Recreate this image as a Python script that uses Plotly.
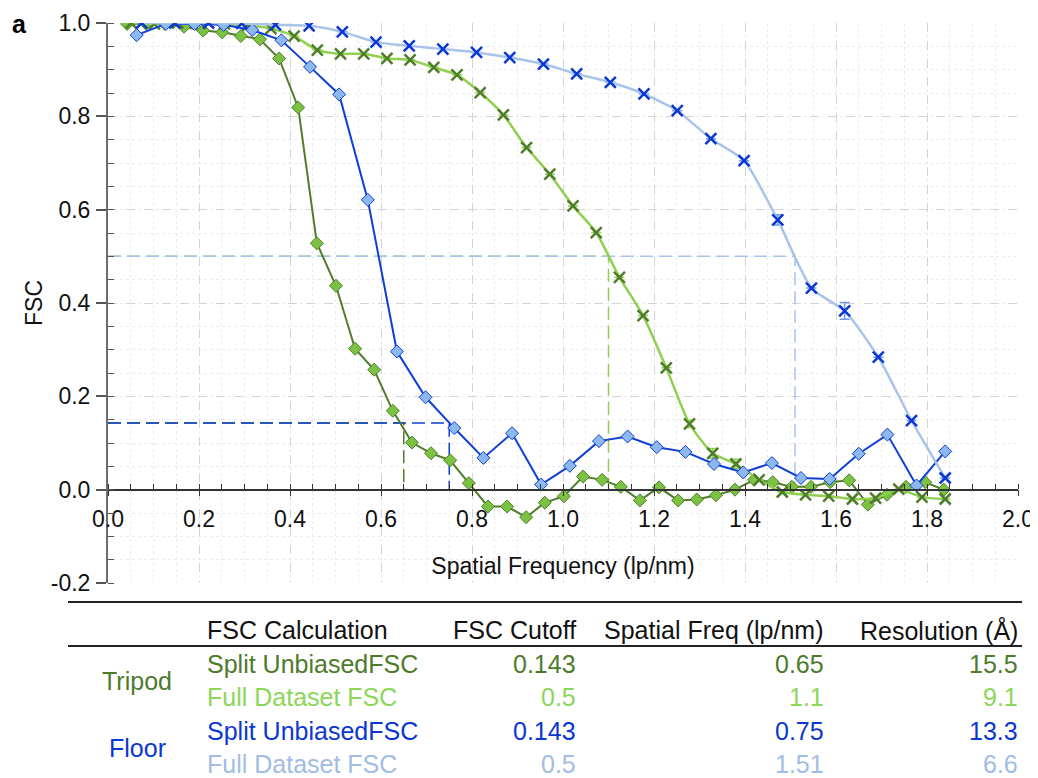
import plotly.graph_objects as go

# ---------------- data ----------------
tripod_split_x = [0.042, 0.084, 0.125, 0.167, 0.209, 0.251, 0.292, 0.334, 0.376, 0.418,
                  0.459, 0.501, 0.543, 0.585, 0.626, 0.668, 0.710, 0.752, 0.793, 0.835,
                  0.877, 0.919, 0.960, 1.002, 1.044, 1.086, 1.127, 1.169, 1.211, 1.253,
                  1.294, 1.336, 1.378, 1.420, 1.461, 1.503, 1.545, 1.587, 1.629, 1.670,
                  1.712, 1.754, 1.796, 1.837]
tripod_split_y = [0.998, 0.998, 0.998, 0.992, 0.984, 0.980, 0.972, 0.965, 0.924, 0.819,
                  0.528, 0.437, 0.302, 0.257, 0.169, 0.101, 0.078, 0.063, 0.014, -0.036,
                  -0.036, -0.059, -0.028, -0.014, 0.028, 0.021, 0.006, -0.023, 0.005, -0.023,
                  -0.021, -0.012, 0.000, 0.021, 0.016, 0.006, 0.006, 0.016, 0.020, -0.032,
                  -0.011, 0.006, 0.016, 0.000]

tripod_full_x = [0.051, 0.102, 0.153, 0.204, 0.256, 0.307, 0.358, 0.409, 0.460, 0.511,
                 0.562, 0.613, 0.664, 0.716, 0.767, 0.818, 0.869, 0.920, 0.971, 1.022,
                 1.073, 1.124, 1.176, 1.227, 1.278, 1.329, 1.380, 1.431, 1.482, 1.533,
                 1.584, 1.636, 1.687, 1.738, 1.789, 1.840]
tripod_full_y = [1.000, 0.998, 1.000, 1.000, 0.998, 0.995, 0.988, 0.972, 0.942, 0.934,
                 0.934, 0.924, 0.921, 0.905, 0.889, 0.851, 0.803, 0.733, 0.676, 0.608,
                 0.551, 0.455, 0.373, 0.261, 0.141, 0.078, 0.055, 0.021, -0.005, -0.011,
                 -0.014, -0.020, -0.018, 0.001, -0.016, -0.020]
tripod_full_err = [0, 0, 0, 0, 0, 0, 0, 0, 0, 0, 0, 0, 0, 0, 0, 0, 0, 0, 0, 0,
                   0, 0, 0, 0, 0.008, 0.010, 0.010, 0, 0, 0, 0, 0, 0, 0, 0, 0]

floor_split_x = [0.063, 0.127, 0.190, 0.254, 0.317, 0.381, 0.444, 0.508, 0.571, 0.635,
                 0.698, 0.761, 0.825, 0.888, 0.952, 1.015, 1.079, 1.142, 1.206, 1.269,
                 1.332, 1.396, 1.459, 1.523, 1.586, 1.650, 1.713, 1.777, 1.840]
floor_split_y = [0.974, 0.998, 0.998, 0.996, 0.985, 0.963, 0.906, 0.847, 0.621, 0.296,
                 0.198, 0.132, 0.068, 0.121, 0.011, 0.051, 0.104, 0.114, 0.091, 0.081,
                 0.055, 0.037, 0.057, 0.025, 0.023, 0.077, 0.118, 0.009, 0.082]

floor_full_x = [0.074, 0.147, 0.221, 0.294, 0.368, 0.442, 0.515, 0.589, 0.662, 0.736,
                0.810, 0.883, 0.957, 1.030, 1.104, 1.178, 1.251, 1.325, 1.398, 1.472,
                1.546, 1.619, 1.693, 1.766, 1.840]
floor_full_y = [1.000, 1.000, 1.000, 0.999, 0.996, 0.994, 0.981, 0.959, 0.951, 0.944,
                0.937, 0.926, 0.912, 0.891, 0.873, 0.848, 0.812, 0.752, 0.705, 0.578,
                0.432, 0.383, 0.284, 0.148, 0.025]
floor_full_err = [0, 0, 0, 0, 0, 0, 0, 0, 0, 0, 0, 0, 0, 0, 0, 0, 0, 0, 0, 0.011,
                  0, 0.018, 0, 0, 0]

# table
groups = ["Tripod", "Floor"]
calc_names = ["Split UnbiasedFSC", "Full Dataset FSC", "Split UnbiasedFSC", "Full Dataset FSC"]
fsc_cutoff = [0.143, 0.5, 0.143, 0.5]
spatial_freq = [0.65, 1.1, 0.75, 1.51]
resolution = [15.5, 9.1, 13.3, 6.6]
headers = ["FSC Calculation", "FSC Cutoff", "Spatial Freq (lp/nm)", "Resolution (\u00c5)"]

y_ticks = [-0.2, 0.0, 0.2, 0.4, 0.6, 0.8, 1.0]
y_ticktext = ["-0.2", "0.0", "0.2", "0.4", "0.6", "0.8", "1.0"]
x_ticks = [0.0, 0.2, 0.4, 0.6, 0.8, 1.0, 1.2, 1.4, 1.6, 1.8, 2.0]
x_ticktext = ["0.0", "0.2", "0.4", "0.6", "0.8", "1.0", "1.2", "1.4", "1.6", "1.8", "2.0"]

# ---------------- styles ----------------
DARK_GREEN = "#4f7d2b"
DIAMOND_GREEN = "#7cc242"
LIGHT_GREEN_LINE = "#8fd04f"
BLUE = "#0f3fd6"
DIAMOND_BLUE = "#8cb8ee"
LIGHT_BLUE_LINE = "#a9c3ea"
X_BLUE = "#0a38d4"

TXT_DG = "#4e7a2c"
TXT_LG = "#8cd65b"
TXT_B = "#0a37d1"
TXT_LB = "#a2bce3"
row_colors = [TXT_DG, TXT_LG, TXT_B, TXT_LB]
ref_colors = [DARK_GREEN, LIGHT_GREEN_LINE, BLUE, LIGHT_BLUE_LINE]

FONT = "Liberation Sans, Arial, Helvetica, sans-serif"

OFF = 8                               # page offset of the plot div
W, H = 1038 - OFF, 778 - OFF
L, R, T, B = 108, 1018, 23, 583       # plot area in screen pixels


def px2x(p):
    return (p - L) / (R - L)


def py2y(p):
    return (B - p) / (B - T)


fig = go.Figure()

# dashed cutoff reference lines (from table values)
for c, f, col in zip(fsc_cutoff, spatial_freq, ref_colors):
    fig.add_trace(go.Scatter(
        x=[0, f, f], y=[c, c, 0], mode="lines",
        line=dict(color=col, width=1.5, dash="13px,6px"),
        hoverinfo="skip", showlegend=False))

# Tripod split (dark green diamonds)
fig.add_trace(go.Scatter(
    x=tripod_split_x, y=tripod_split_y, mode="lines+markers", name="Tripod Split",
    line=dict(color=DARK_GREEN, width=2),
    marker=dict(symbol="diamond", size=10, color=DIAMOND_GREEN,
                line=dict(color=DARK_GREEN, width=1)),
    showlegend=False))

# Tripod full (light green, x markers)
fig.add_trace(go.Scatter(
    x=tripod_full_x, y=tripod_full_y, mode="lines+markers", name="Tripod Full",
    line=dict(color=LIGHT_GREEN_LINE, width=2.5, shape="spline", smoothing=0.6),
    marker=dict(symbol="x-thin-open", size=11, color=DARK_GREEN,
                line=dict(color=DARK_GREEN, width=2.5)),
    error_y=dict(type="data", array=tripod_full_err, visible=True,
                 color=LIGHT_GREEN_LINE, thickness=1.5, width=5),
    showlegend=False))

# Floor split (blue diamonds)
fig.add_trace(go.Scatter(
    x=floor_split_x, y=floor_split_y, mode="lines+markers", name="Floor Split",
    line=dict(color=BLUE, width=2),
    marker=dict(symbol="diamond", size=10, color=DIAMOND_BLUE,
                line=dict(color=BLUE, width=1)),
    showlegend=False))

# Floor full (light blue, x markers)
fig.add_trace(go.Scatter(
    x=floor_full_x, y=floor_full_y, mode="lines+markers", name="Floor Full",
    line=dict(color=LIGHT_BLUE_LINE, width=2.5, shape="spline", smoothing=0.6),
    marker=dict(symbol="x-thin-open", size=11, color=X_BLUE,
                line=dict(color=X_BLUE, width=2.5)),
    error_y=dict(type="data", array=floor_full_err, visible=True,
                 color="#6f98e0", thickness=1.5, width=5),
    showlegend=False))

axis_font = dict(family=FONT, size=23, color="#111111")

fig.update_layout(
    width=W, height=H,
    margin=dict(l=L - OFF, r=1038 - R, t=T - OFF, b=778 - B, pad=0, autoexpand=False),
    paper_bgcolor="white", plot_bgcolor="white",
    font=dict(family=FONT, size=23, color="#111111"),
    showlegend=False,
    xaxis=dict(
        range=[0, 2], anchor="free", position=0.2 / 1.2, automargin=False,
        tickmode="array", tickvals=x_ticks, ticktext=x_ticktext,
        showline=True, linecolor="#333333", linewidth=1.5,
        ticks="outside", ticklen=6, tickwidth=1.2, tickcolor="#333333",
        tickfont=axis_font, ticklabelstandoff=3,
        showgrid=True, gridcolor="#d4d4d4", gridwidth=1, griddash="dash",
        zeroline=False,
        minor=dict(tickmode="linear", tick0=0, dtick=0.05, ticks="inside", ticklen=5,
                   tickcolor="#333333", tickwidth=1, showgrid=True,
                   gridcolor="#ececec", gridwidth=1, griddash="dot"),
        title=dict(text="Spatial Frequency (lp/nm)", font=axis_font, standoff=26),
    ),
    yaxis=dict(
        range=[-0.2, 1.0], automargin=False,
        tickmode="array", tickvals=y_ticks, ticktext=y_ticktext,
        showline=True, linecolor="#6b6b6b", linewidth=2,
        ticks="outside", ticklen=10, tickwidth=1.5, tickcolor="#555555",
        tickfont=axis_font, ticklabelstandoff=1,
        showgrid=True, gridcolor="#d4d4d4", gridwidth=1, griddash="dash",
        zeroline=False,
        minor=dict(tickmode="linear", tick0=0, dtick=0.05, ticks="inside", ticklen=6,
                   tickcolor="#555555", tickwidth=1, showgrid=True,
                   gridcolor="#ececec", gridwidth=1, griddash="dot"),
        title=dict(text="FSC", font=axis_font, standoff=2),
    ),
)

annotations = []
shapes = []

# panel label (kept fully inside the figure box)
annotations.append(dict(xref="paper", yref="paper", x=px2x(19), y=py2y(9),
                        xanchor="center", yanchor="top", showarrow=False, borderpad=0,
                        text="<b>a</b>", font=dict(family=FONT, size=25, color="black")))

# table rules
for yy, wdt in [(602, 2.2), (646, 2)]:
    shapes.append(dict(type="line", xref="paper", yref="paper",
                       x0=px2x(68), x1=px2x(1022), y0=py2y(yy), y1=py2y(yy),
                       line=dict(color="#222222", width=wdt)))

TFS = 25
# headers
hdr_y = 630
hdr_pos = [(205, "left"), (578, "right"), (826, "right"), (1020, "right")]
for txt, (xp, anc) in zip(headers, hdr_pos):
    annotations.append(dict(xref="paper", yref="paper", x=px2x(xp), y=py2y(hdr_y),
                            xanchor=anc, yanchor="middle", showarrow=False, text=txt,
                            font=dict(family=FONT, size=TFS, color="#111111")))

row_ys = [664, 697, 731, 764]
for i in range(4):
    col = row_colors[i]
    f = dict(family=FONT, size=TFS, color=col)
    yv = py2y(row_ys[i])
    annotations.append(dict(xref="paper", yref="paper", x=px2x(205), y=yv, xanchor="left",
                            yanchor="middle", showarrow=False, text=calc_names[i], font=f))
    annotations.append(dict(xref="paper", yref="paper", x=px2x(578), y=yv, xanchor="right",
                            yanchor="middle", showarrow=False, text=f"{fsc_cutoff[i]:g}", font=f))
    annotations.append(dict(xref="paper", yref="paper", x=px2x(826), y=yv, xanchor="right",
                            yanchor="middle", showarrow=False, text=f"{spatial_freq[i]:g}", font=f))
    annotations.append(dict(xref="paper", yref="paper", x=px2x(1020), y=yv, xanchor="right",
                            yanchor="middle", showarrow=False, text=f"{resolution[i]:.1f}", font=f))

group_ys = [681, 748]
group_cols = [TXT_DG, TXT_B]
for g, gy, gc in zip(groups, group_ys, group_cols):
    annotations.append(dict(xref="paper", yref="paper", x=px2x(137), y=py2y(gy),
                            xanchor="center", yanchor="middle", showarrow=False, text=g,
                            font=dict(family=FONT, size=TFS, color=gc)))

fig.update_layout(annotations=annotations, shapes=shapes)

fig.write_html("out.html")
